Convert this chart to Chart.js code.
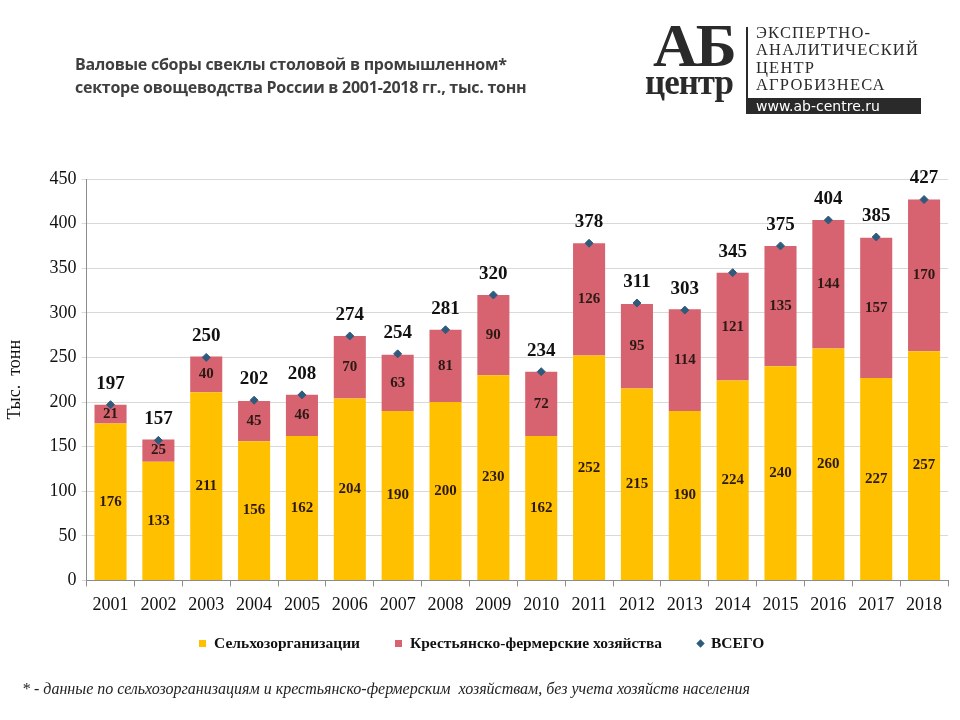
<!DOCTYPE html>
<html><head><meta charset="utf-8">
<script src="https://cdn.jsdelivr.net/npm/chart.js@4.4.1/dist/chart.umd.min.js"></script>
<style>
html,body{margin:0;padding:0;background:#fff;width:960px;height:720px;overflow:hidden;position:relative;}
#wrap{position:absolute;left:0;top:0;width:960px;height:720px;}
#title{position:absolute;left:75px;top:53px;font-family:"Open Sans","Liberation Sans",sans-serif;font-weight:bold;font-size:16px;line-height:23px;color:#3f3f3f;letter-spacing:-0.25px;}
#foot{position:absolute;left:22px;top:680px;font-family:"Liberation Serif",serif;font-style:italic;font-size:16px;color:#222;}
#logo{position:absolute;left:640px;top:20px;width:300px;height:100px;}
#ab{position:absolute;left:13px;top:-5px;font-family:"Liberation Serif",serif;font-weight:bold;font-size:62px;color:#2a2a2a;letter-spacing:-2px;line-height:60px;}
#centr{position:absolute;left:5px;top:46px;font-family:"Liberation Serif",serif;font-weight:bold;font-size:35px;color:#2a2a2a;line-height:34px;letter-spacing:-1px;}
#vline{position:absolute;left:106px;top:7px;width:2px;height:86px;background:#2a2a2a;}
#ltext{position:absolute;left:116px;top:4px;font-family:"Liberation Serif",serif;font-size:16.5px;line-height:17.4px;color:#2a2a2a;letter-spacing:1.2px;}
#url{position:absolute;left:106px;top:78px;width:165px;height:16px;background:#2a2a2a;color:#fff;font-family:"DejaVu Sans",sans-serif;font-size:14px;line-height:16px;padding-left:10px;}
.lg{position:absolute;top:634px;font-family:"Liberation Serif",serif;font-weight:bold;font-size:15.5px;line-height:18px;color:#111;white-space:nowrap;}
.sw{position:absolute;width:7px;height:7px;}
</style></head>
<body>
<div id="wrap"><canvas id="c" width="960" height="720"></canvas></div>
<div id="title">Валовые сборы свеклы столовой в промышленном*<br>секторе овощеводства России в 2001-2018 гг., тыс. тонн</div>
<div id="logo">
  <div id="ab">АБ</div>
  <div id="centr">центр</div>
  <div id="vline"></div>
  <div id="ltext">ЭКСПЕРТНО-<br>АНАЛИТИЧЕСКИЙ<br>ЦЕНТР<br>АГРОБИЗНЕСА</div>
  <div id="url">www.ab-centre.ru</div>
</div>
<div id="legend"></div>
<div id="foot">* - данные по сельхозорганизациям и крестьянско-фермерским&nbsp; хозяйствам, без учета хозяйств населения</div>
<script>
const years = ["2001","2002","2003","2004","2005","2006","2007","2008","2009","2010","2011","2012","2013","2014","2015","2016","2017","2018"];
const agriOrgs = [176,133,211,156,162,204,190,200,230,162,252,215,190,224,240,260,227,257];
const farms = [21,25,40,45,46,70,63,81,90,72,126,95,114,121,135,144,157,170];
const totals = [197,157,250,202,208,274,254,281,320,234,378,311,303,345,375,404,385,427];
const seriesNames = ["Сельхозорганизации","Крестьянско-фермерские хозяйства","ВСЕГО"];

const YELLOW = "#FFC000";
const PINK = "#D6636F";
const MARK = "#2E5B7C";
const SERIF = '"Liberation Serif","Times New Roman",serif';

// HTML legend built from series names
(function(){
  const xs = [[199,214],[395,410],[697,711]];
  const cols = [YELLOW, PINK, MARK];
  seriesNames.forEach((n,i)=>{
    const sw = document.createElement("div");
    sw.className = "sw";
    sw.style.left = xs[i][0] + "px";
    sw.style.top = "640px";
    sw.style.background = cols[i];
    if (i === 2) { sw.style.transform = "rotate(45deg) scale(0.85)"; }
    document.body.appendChild(sw);
    const t = document.createElement("div");
    t.className = "lg";
    t.style.left = xs[i][1] + "px";
    t.textContent = n;
    document.body.appendChild(t);
  });
})();

const labelPlugin = {
  id: "labels",
  afterDatasetsDraw(chart) {
    const ctx = chart.ctx;
    ctx.save();
    ctx.textAlign = "center";
    ctx.textBaseline = "middle";
    [0,1].forEach(di => {
      const meta = chart.getDatasetMeta(di);
      const vals = chart.data.datasets[di].data;
      ctx.font = "bold 15px " + SERIF;
      ctx.fillStyle = "#2b1a14";
      meta.data.forEach((bar, i) => {
        const y = (bar.y + bar.base) / 2;
        ctx.fillText(String(vals[i]), bar.x, y);
      });
    });
    const lm = chart.getDatasetMeta(2);
    ctx.font = "bold 19px " + SERIF;
    ctx.fillStyle = "#111";
    lm.data.forEach((pt, i) => {
      ctx.fillText(String(totals[i]), pt.x, pt.y - 21);
    });
    ctx.restore();
  }
};

new Chart(document.getElementById("c"), {
  type: "bar",
  data: {
    labels: years,
    datasets: [
      {label: seriesNames[0], data: agriOrgs, backgroundColor: YELLOW, stack: "s", barPercentage: 0.67, categoryPercentage: 1.0, order: 2},
      {label: seriesNames[1], data: farms, backgroundColor: PINK, stack: "s", barPercentage: 0.67, categoryPercentage: 1.0, order: 2},
      {label: seriesNames[2], type: "line", data: totals, stack: "t", showLine: false, pointStyle: "rectRot", pointRadius: 4, pointBackgroundColor: MARK, pointBorderColor: MARK, borderColor: MARK, backgroundColor: MARK, order: 1}
    ]
  },
  options: {
    responsive: false,
    animation: false,
    events: [],
    layout: {padding: {top: 179, left: 4, right: 12, bottom: 96}},
    plugins: {
      title: {display: false},
      tooltip: {enabled: false},
      legend: {display: false}
    },
    scales: {
      x: {
        stacked: true,
        grid: {display: true, drawOnChartArea: false, offset: true, tickLength: 6, color: "#8c8c8c"},
        border: {color: "#8c8c8c"},
        ticks: {color: "#111", font: {family: SERIF, size: 18}, padding: 8}
      },
      y: {
        stacked: true,
        min: 0, max: 450,
        ticks: {stepSize: 50, color: "#111", font: {family: SERIF, size: 18}, padding: 5},
        grid: {color: "#d9d9d9", tickLength: 5},
        border: {color: "#8c8c8c"},
        title: {display: true, text: "Тыс.  тонн", color: "#111", font: {family: SERIF, size: 18}, padding: {top: 0, bottom: 19}}
      }
    }
  },
  plugins: [labelPlugin]
});
</script>
</body></html>
